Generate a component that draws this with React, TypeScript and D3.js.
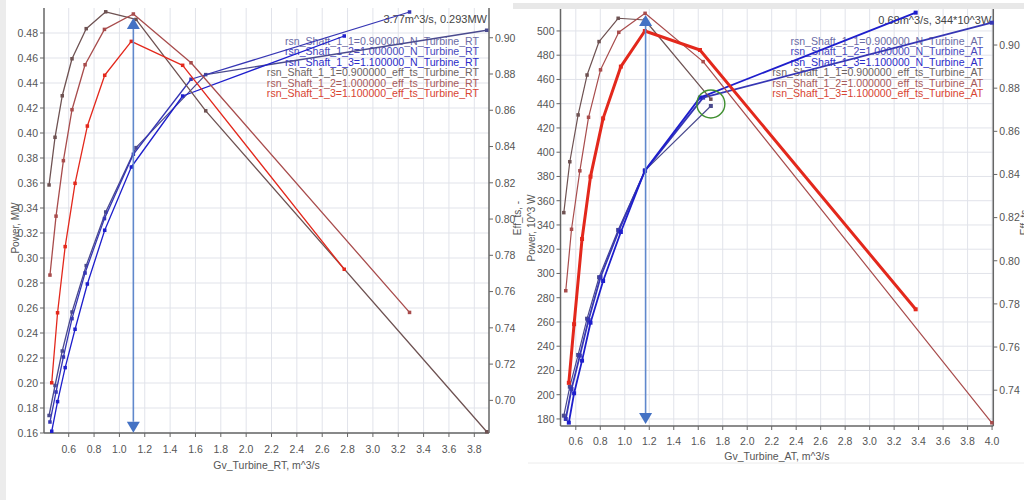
import React from 'react';
import * as d3 from 'd3';

// ---------- Left chart (RT) ----------
const rtFlow1 = [0.445, 0.492, 0.549, 0.626, 0.738, 0.892, 1.131, 1.681, 3.898];
const rtPower1 = [0.174, 0.198, 0.2256, 0.2568, 0.2939, 0.3368, 0.3883, 0.4467, 0.4822];
const rtEff1 = [0.8188, 0.8451, 0.868, 0.8884, 0.905, 0.9143, 0.9101, 0.8597, 0.6827];

const rtFlow2 = [0.452, 0.5, 0.558, 0.626, 0.729, 0.882, 1.11, 1.565, 3.289];
const rtPower2 = [0.1688, 0.1928, 0.2208, 0.2515, 0.288, 0.3315, 0.383, 0.443, 0.4968];
const rtEff2 = [0.7691, 0.8016, 0.8322, 0.8603, 0.8851, 0.9046, 0.9131, 0.8862, 0.7485];

const rtFlow3 = [0.466, 0.512, 0.572, 0.65, 0.747, 0.884, 1.094, 1.499, 2.774];
const rtPower3 = [0.1614, 0.1851, 0.2123, 0.243, 0.2792, 0.3222, 0.3728, 0.4296, 0.4776];
const rtEff3 = [0.7097, 0.7483, 0.7848, 0.8197, 0.8513, 0.8793, 0.898, 0.8848, 0.7723];

const rtFlowTicks = [0.6, 0.8, 1.0, 1.2, 1.4, 1.6, 1.8, 2.0, 2.2, 2.4, 2.6, 2.8, 3.0, 3.2, 3.4, 3.6, 3.8];
const rtPowerTicks = [0.16, 0.18, 0.2, 0.22, 0.24, 0.26, 0.28, 0.3, 0.32, 0.34, 0.36, 0.38, 0.4, 0.42, 0.44, 0.46, 0.48];
const rtEffTicks = [0.7, 0.72, 0.74, 0.76, 0.78, 0.8, 0.82, 0.84, 0.86, 0.88, 0.9];
const rtLegend = [
  'rsn_Shaft_1_1=0.900000_N_Turbine_RT',
  'rsn_Shaft_1_2=1.000000_N_Turbine_RT',
  'rsn_Shaft_1_3=1.100000_N_Turbine_RT',
  'rsn_Shaft_1_1=0.900000_eff_ts_Turbine_RT',
  'rsn_Shaft_1_2=1.000000_eff_ts_Turbine_RT',
  'rsn_Shaft_1_3=1.100000_eff_ts_Turbine_RT',
];
const rtCursorText = '3.77m^3/s, 0.293MW';
const rtArrow = { flow: 1.11, from: 0.1602, to: 0.492 };

// ---------- Right chart (AT) ----------
const atFlow1 = [0.502, 0.551, 0.619, 0.692, 0.79, 0.946, 1.164, 1.703];
const atPower1 = [182.7, 206.6, 232.8, 262.7, 296.9, 335.9, 384.8, 438.1];
const atEff1 = [0.8223, 0.8459, 0.8676, 0.8861, 0.9016, 0.9124, 0.9116, 0.8749];

const atFlow2 = [0.518, 0.565, 0.633, 0.704, 0.802, 0.951, 1.166, 1.64, 3.998];
const atPower2 = [180, 204.7, 232.2, 261.6, 296.9, 335.3, 384.8, 445, 506.8];
const atEff2 = [0.7861, 0.8146, 0.8417, 0.8665, 0.8885, 0.9059, 0.9147, 0.8923, 0.7249];

const atFlow3 = [0.543, 0.586, 0.651, 0.72, 0.823, 0.968, 1.164, 1.614, 3.376];
const atPower3 = [177, 201.2, 228.1, 259.4, 293.8, 334.2, 384.8, 445, 515.1];
const atEff3 = [0.7434, 0.7706, 0.8101, 0.839, 0.866, 0.89, 0.9065, 0.8977, 0.7775];

const atFlowTicks = [0.6, 0.8, 1.0, 1.2, 1.4, 1.6, 1.8, 2.0, 2.2, 2.4, 2.6, 2.8, 3.0, 3.2, 3.4, 3.6, 3.8, 4.0];
const atPowerTicks = [180, 200, 220, 240, 260, 280, 300, 320, 340, 360, 380, 400, 420, 440, 460, 480, 500];
const atEffTicks = [0.74, 0.76, 0.78, 0.8, 0.82, 0.84, 0.86, 0.88, 0.9];
const atLegend = [
  'rsn_Shaft_1_1=0.900000_N_Turbine_AT',
  'rsn_Shaft_1_2=1.000000_N_Turbine_AT',
  'rsn_Shaft_1_3=1.100000_N_Turbine_AT',
  'rsn_Shaft_1_1=0.900000_eff_ts_Turbine_AT',
  'rsn_Shaft_1_2=1.000000_eff_ts_Turbine_AT',
  'rsn_Shaft_1_3=1.100000_eff_ts_Turbine_AT',
];
const atCursorText = '0.68m^3/s, 344*10^3W';
const atArrow = { flow: 1.17, from: 175.9, to: 513.2 };
const atCircle = { flow: 1.703, power: 439.8 };

// ---------- styles ----------
const powerColors = ['#4a4a8e', '#3636b4', '#1e1ecc'];
const effColors = ['#6e5252', '#a84c4c', '#e3281c'];
const legendColors = ['#6c6ca6', '#4848bc', '#2c2cc8', '#6e6464', '#a85a5a', '#d84432'];
const FONT = '"Liberation Sans", Arial, sans-serif';
const GRID = '#e1e3ea';
const AXIS = '#666';
const TICKTXT = '#555';

type Series = { flow: number[]; vals: number[]; color: string; width: number; axis: 'p' | 'e'; mark: number };

type PanelProps = {
  left: number; right: number; top: number; bottom: number;
  xDom: [number, number]; pDom: [number, number]; eDom: [number, number];
  xTicks: number[]; pTicks: number[]; eTicks: number[];
  pFmt: (v: number) => string;
  series: Series[];
  legend: string[];
  legendY: number;
  cursorText: string;
  arrow: { flow: number; from: number; to: number };
  xLabel: string; xLabelY: number; xTickY: number;
  pLabel: string; pLabelX: number; eLabelX: number; eLabelCY: number; pLabelCY: number;
  circle?: { flow: number; power: number };
};

function Panel(pr: PanelProps) {
  const x = d3.scaleLinear().domain(pr.xDom).range([pr.left, pr.right]);
  const yp = d3.scaleLinear().domain(pr.pDom).range([pr.bottom, pr.top]);
  const ye = d3.scaleLinear().domain(pr.eDom).range([pr.bottom, pr.top]);
  const f1 = d3.format('.1f');
  const f2 = d3.format('.2f');
  const ax = pr.arrow;
  const axp = x(ax.flow);
  const yTop = yp(ax.to);
  const yBot = yp(ax.from);
  const th = 11;
  const tw = 6.5;
  return (
    <g fontFamily={FONT}>
      {/* grid */}
      {pr.xTicks.map((t) => (
        <line key={'gx' + t} x1={x(t)} x2={x(t)} y1={pr.top} y2={pr.bottom} stroke={GRID} strokeWidth={1} />
      ))}
      {pr.pTicks.map((t) => (
        <line key={'gy' + t} x1={pr.left} x2={pr.right} y1={yp(t)} y2={yp(t)} stroke={GRID} strokeWidth={1} />
      ))}
      {/* axes */}
      <line x1={pr.left} x2={pr.left} y1={pr.top} y2={pr.bottom} stroke={AXIS} strokeWidth={1.5} />
      <line x1={pr.right} x2={pr.right} y1={pr.top} y2={pr.bottom} stroke={AXIS} strokeWidth={1.5} />
      <line x1={pr.left} x2={pr.right} y1={pr.bottom} y2={pr.bottom} stroke={AXIS} strokeWidth={1.5} />
      {pr.xTicks.map((t) => (
        <g key={'tx' + t}>
          <line x1={x(t)} x2={x(t)} y1={pr.bottom} y2={pr.bottom + 4} stroke={AXIS} />
          <text x={x(t)} y={pr.xTickY} textAnchor="middle" fontSize={10.5} fill={TICKTXT}>{f1(t)}</text>
        </g>
      ))}
      {pr.pTicks.map((t) => (
        <g key={'tp' + t}>
          <line x1={pr.left - 4} x2={pr.left} y1={yp(t)} y2={yp(t)} stroke={AXIS} />
          <text x={pr.left - 6} y={yp(t) + 3.8} textAnchor="end" fontSize={10.5} fill={TICKTXT}>{pr.pFmt(t)}</text>
        </g>
      ))}
      {pr.eTicks.map((t) => (
        <g key={'te' + t}>
          <line x1={pr.right} x2={pr.right + 4} y1={ye(t)} y2={ye(t)} stroke={AXIS} />
          <text x={pr.right + 6} y={ye(t) + 3.8} textAnchor="start" fontSize={10.5} fill={TICKTXT}>{f2(t)}</text>
        </g>
      ))}
      {/* axis titles */}
      <text x={(pr.left + pr.right) / 2} y={pr.xLabelY} textAnchor="middle" fontSize={10.5} fill="#555">{pr.xLabel}</text>
      <text transform={`translate(${pr.pLabelX},${pr.pLabelCY}) rotate(-90)`} textAnchor="middle" fontSize={10} fill="#555">{pr.pLabel}</text>
      <text transform={`translate(${pr.eLabelX},${pr.eLabelCY}) rotate(-90)`} textAnchor="middle" fontSize={10} fill="#555">Eff_ts, -</text>
      {/* legend and cursor text */}
      <text x={pr.right - 2} y={pr.top + 15} textAnchor="end" fontSize={11} fill="#444">{pr.cursorText}</text>
      {pr.legend.map((s, i) => (
        <text key={s} x={pr.right - 10} y={pr.legendY + i * 10.45} textAnchor="end" fontSize={10.6} fill={legendColors[i]}>{s}</text>
      ))}
      {/* series */}
      {pr.series.map((s, i) => {
        const yy = s.axis === 'p' ? yp : ye;
        const pts = s.flow.map((f, k) => [x(f), yy(s.vals[k])] as [number, number]);
        const d = d3.line()(pts) || '';
        return (
          <g key={'s' + i}>
            <path d={d} fill="none" stroke={s.color} strokeWidth={s.width} strokeLinejoin="round" />
            {pts.map((p, k) => (
              <rect key={k} x={p[0] - s.mark / 2} y={p[1] - s.mark / 2} width={s.mark} height={s.mark} fill={s.color} />
            ))}
          </g>
        );
      })}
      {/* arrow */}
      <line x1={axp} x2={axp} y1={yTop + th} y2={yBot - th} stroke="#6088cc" strokeWidth={1.6} />
      <path d={`M${axp},${yTop} L${axp - tw},${yTop + th} L${axp + tw},${yTop + th} Z`} fill="#4472c4" />
      <path d={`M${axp},${yBot} L${axp - tw},${yBot - th} L${axp + tw},${yBot - th} Z`} fill="#4472c4" />
      {pr.circle && (
        <circle cx={x(pr.circle.flow)} cy={yp(pr.circle.power)} r={14} fill="none" stroke="#3f8f2f" strokeWidth={1.4} />
      )}
    </g>
  );
}

export default function App() {
  const rtSeries: Series[] = [
    { flow: rtFlow1, vals: rtPower1, color: powerColors[0], width: 1.3, axis: 'p', mark: 3.5 },
    { flow: rtFlow2, vals: rtPower2, color: powerColors[1], width: 1.3, axis: 'p', mark: 3.5 },
    { flow: rtFlow3, vals: rtPower3, color: powerColors[2], width: 1.3, axis: 'p', mark: 3.5 },
    { flow: rtFlow1, vals: rtEff1, color: effColors[0], width: 1.3, axis: 'e', mark: 3.5 },
    { flow: rtFlow2, vals: rtEff2, color: effColors[1], width: 1.3, axis: 'e', mark: 3.5 },
    { flow: rtFlow3, vals: rtEff3, color: effColors[2], width: 1.3, axis: 'e', mark: 3.5 },
  ];
  const atSeries: Series[] = [
    { flow: atFlow1, vals: atPower1, color: powerColors[0], width: 1.2, axis: 'p', mark: 4 },
    { flow: atFlow2, vals: atPower2, color: powerColors[1], width: 1.8, axis: 'p', mark: 4 },
    { flow: atFlow3, vals: atPower3, color: powerColors[2], width: 1.8, axis: 'p', mark: 4 },
    { flow: atFlow1, vals: atEff1, color: effColors[0], width: 1.2, axis: 'e', mark: 3.5 },
    { flow: atFlow2, vals: atEff2, color: effColors[1], width: 1.2, axis: 'e', mark: 3.5 },
    { flow: atFlow3, vals: atEff3, color: effColors[2], width: 3, axis: 'e', mark: 4 },
  ];
  return (
    <svg width={1024} height={500} style={{ position: 'absolute', left: 0, top: 0, background: '#fff' }}>
      <rect x={0} y={0} width={1024} height={500} fill="#fff" />
      <rect x={0} y={0} width={6} height={500} fill="#ececec" />
      <rect x={513} y={3} width={511} height={6} fill="#e8e8e8" />
      <line x1={528} x2={1024} y1={463} y2={463} stroke="#ececec" />
      <Panel
        left={44} right={489} top={8} bottom={433}
        xDom={[0.405, 3.916]} pDom={[0.16, 0.5]} eDom={[0.682, 0.9164]}
        xTicks={rtFlowTicks} pTicks={rtPowerTicks} eTicks={rtEffTicks}
        pFmt={d3.format('.2f')}
        series={rtSeries} legend={rtLegend} legendY={45}
        cursorText={rtCursorText} arrow={rtArrow}
        xLabel="Gv_Turbine_RT, m^3/s" xLabelY={469} xTickY={453}
        pLabel="Power, MW" pLabelX={19} pLabelCY={228}
        eLabelX={521} eLabelCY={218}
      />
      <Panel
        left={560.5} right={993.3} top={9} bottom={426}
        xDom={[0.475, 4.01]} pDom={[174.2, 518.1]} eDom={[0.7234, 0.9167]}
        xTicks={atFlowTicks} pTicks={atPowerTicks} eTicks={atEffTicks}
        pFmt={d3.format('d')}
        series={atSeries} legend={atLegend} legendY={45}
        cursorText={atCursorText} arrow={atArrow}
        xLabel="Gv_Turbine_AT, m^3/s" xLabelY={460} xTickY={445}
        pLabel="Power, 10^3 W" pLabelX={535} pLabelCY={228}
        eLabelX={1028} eLabelCY={218}
        circle={atCircle}
      />
    </svg>
  );
}
